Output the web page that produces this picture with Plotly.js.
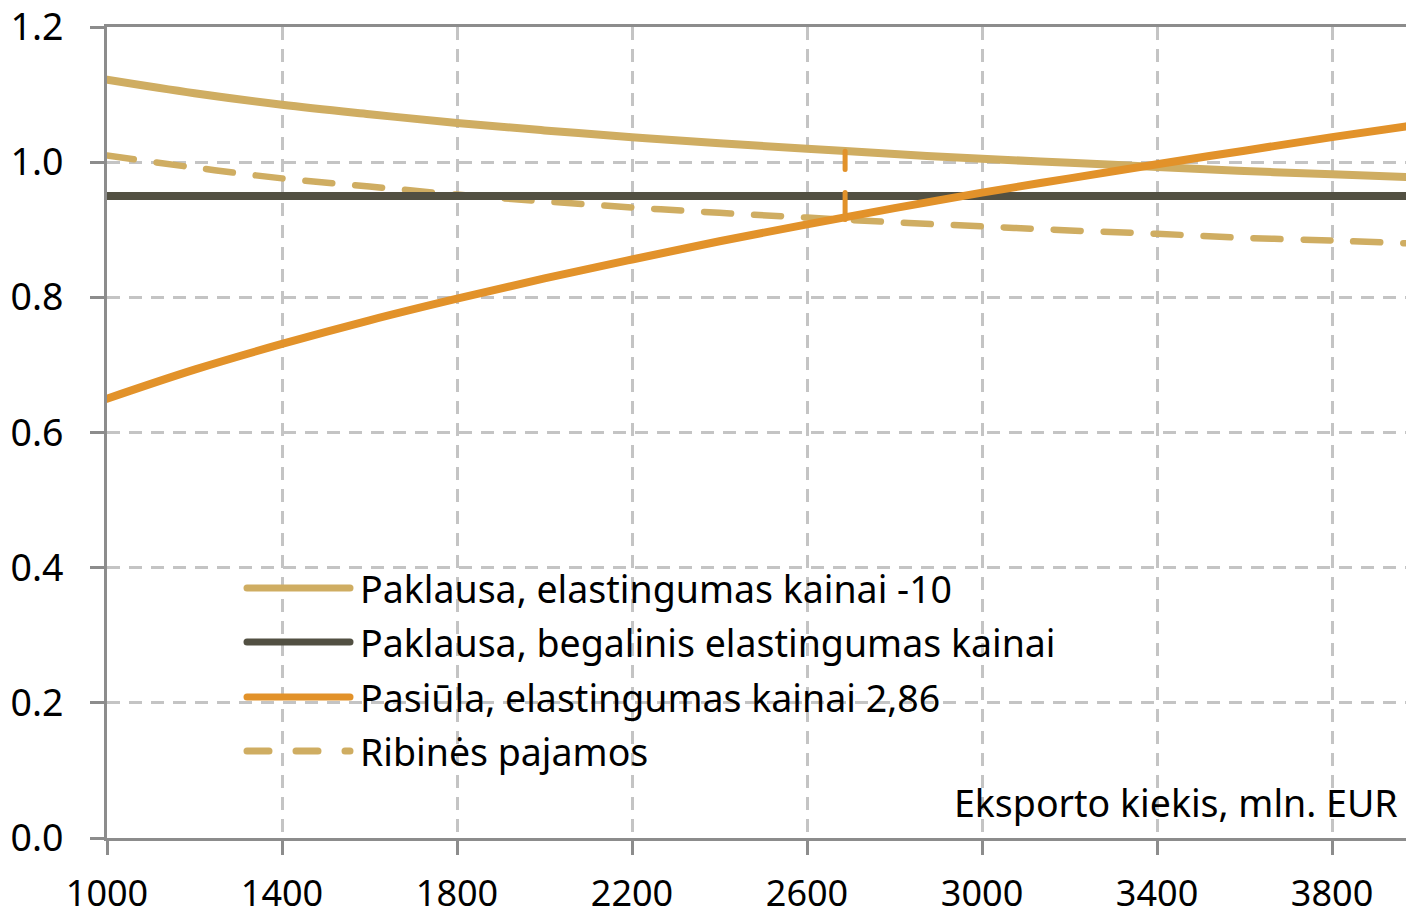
<!DOCTYPE html>
<html>
<head>
<meta charset="utf-8">
<script src="https://cdn.plot.ly/plotly-3.0.1.min.js"></script>
<style>
html,body{margin:0;padding:0;background:#fff;}
#chart{width:1406px;height:916px;}
.js-line{stroke-linecap:round;}
.shapelayer path{stroke-linecap:round;}
</style>
</head>
<body>
<div id="chart"></div>
<script>
// Export quantity (x) and price levels
const quantity = [1000,1200,1400,1600,1800,2000,2200,2400,2600,2800,3000,3200,3400,3600,3800,3969];
const demandElastic = [1.122,1.102,1.085,1.071,1.058,1.047,1.037,1.028,1.020,1.012,1.005,0.999,0.993,0.987,0.982,0.978];
const marginalRevenue = [1.010,0.992,0.976,0.964,0.952,0.942,0.933,0.925,0.918,0.911,0.905,0.899,0.894,0.888,0.884,0.880];
const supply = [0.650,0.693,0.731,0.766,0.798,0.828,0.856,0.883,0.908,0.932,0.955,0.976,0.997,1.017,1.037,1.053];
const demandInfinite = [0.95,0.95];
const demandInfiniteX = [1000,3969];
const optimumX = [2687,2687];
const optimumY = [0.915,1.016];

const xTicks = [1000,1400,1800,2200,2600,3000,3400,3800];
const yTicks = [0,0.2,0.4,0.6,0.8,1.0,1.2];
const yTickText = ['0.0','0.2','0.4','0.6','0.8','1.0','1.2'];

const legendNames = ['Paklausa, elastingumas kainai -10','Paklausa, begalinis elastingumas kainai','Pasiūla, elastingumas kainai 2,86','Ribinės pajamos'];
const xTitle = 'Eksporto kiekis, mln. EUR';

const cTan = '#CFAD62', cDark = '#525042', cOrange = '#E2922A';
const FONT = 'Noto Sans, Open Sans, sans-serif';
const FS = 37.5;

const traces = [
  {x: quantity, y: marginalRevenue, mode:'lines', line:{color:cTan, width:6.5, dash:'27px,23px', shape:'spline'}, name: legendNames[3]},
  {x: demandInfiniteX, y: demandInfinite, mode:'lines', line:{color:cDark, width:8}, name: legendNames[1]},
  {x: quantity, y: demandElastic, mode:'lines', line:{color:cTan, width:8, shape:'spline'}, name: legendNames[0]},
  {x: quantity, y: supply, mode:'lines', line:{color:cOrange, width:8, shape:'spline'}, name: legendNames[2]},
  {x: optimumX, y: [optimumY[0], optimumY[1]], mode:'lines', line:{color:cOrange, width:5, dash:'27px,23px'}, name:'opt'}
];

// Manual legend (pixel positions converted to paper coords)
const L = 107, T = 27, W = 1299, H = 811;
const px = v => (v - L) / W;
const py = v => (T + H - v) / H;
const rows = [588, 642, 697, 751];
const legColors = [cTan, cDark, cOrange, cTan];
const shapes = [];
const annotations = [];
rows.forEach((r, i) => {
  shapes.push({type:'line', xref:'paper', yref:'paper', x0:px(247), x1:px(350), y0:py(r), y1:py(r),
    line:{color:legColors[i], width:7, dash: i===3 ? '22px,27px' : 'solid'}});
  annotations.push({xref:'paper', yref:'paper', x:px(358), y:py(r), xanchor:'left', yanchor:'middle',
    text: legendNames[i], showarrow:false, font:{family:FONT, size:FS, color:'#000'}});
});
annotations.push({xref:'paper', yref:'paper', x:px(1400), y:py(802), xanchor:'right', yanchor:'middle',
  text: xTitle, showarrow:false, font:{family:FONT, size:FS, color:'#000'}});

const layout = {
  width:1406, height:916,
  margin:{l:L, r:0, t:T, b:916-T-H},
  paper_bgcolor:'#fff', plot_bgcolor:'#fff',
  showlegend:false,
  font:{family:FONT, size:FS, color:'#000'},
  xaxis:{range:[1000,3969], tickvals:xTicks, ticktext:xTicks.map(String), showgrid:true, gridcolor:'#C4C4C4', gridwidth:3, griddash:'13px,9px',
    showline:true, linecolor:'#8C8C8C', linewidth:3, mirror:true, ticks:'outside', ticklen:14, tickwidth:3, tickcolor:'#8C8C8C',
    zeroline:false, ticklabelstandoff:8, ticklabeloverflow:'allow', tickfont:{family:FONT, size:36, color:'#000'}},
  yaxis:{range:[0,1.2], tickvals:yTicks, ticktext:yTickText, showgrid:true, gridcolor:'#C4C4C4', gridwidth:3, griddash:'13px,9px',
    showline:true, linecolor:'#8C8C8C', linewidth:3, ticks:'outside', ticklen:14, tickwidth:3, tickcolor:'#8C8C8C',
    zeroline:false, ticklabelstandoff:19, ticklabeloverflow:'allow', tickfont:{family:FONT, size:FS, color:'#000'}},
  shapes: shapes,
  annotations: annotations
};

Plotly.newPlot('chart', traces, layout, {staticPlot:true, displayModeBar:false});
</script>
</body>
</html>
